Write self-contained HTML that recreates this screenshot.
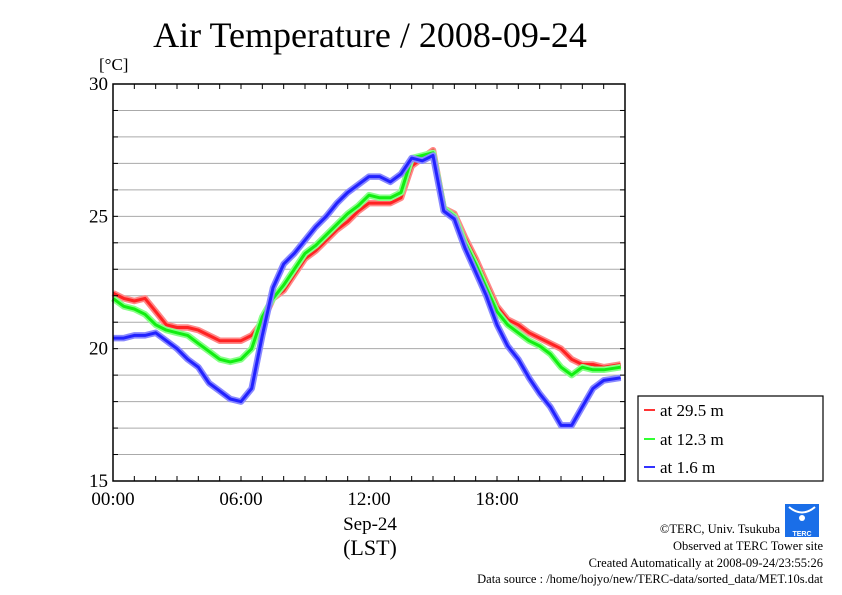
<!DOCTYPE html>
<html><head><meta charset="utf-8"><style>
body{margin:0;background:#fff;}
svg{display:block;font-family:"Liberation Serif",serif;}
</style></head><body>
<svg id="chart" width="842" height="595">
<text x="370" y="47" font-size="36" text-anchor="middle">Air Temperature / 2008-09-24</text>
<text x="99" y="70" font-size="17">[°C]</text>
<g id="grid"></g>
<g id="series"></g>
<rect x="113" y="84" width="512" height="397" fill="none" stroke="#000" stroke-width="1.5"/>
<g id="axes"></g>
<text x="370" y="530" font-size="19" text-anchor="middle">Sep-24</text>
<text x="370" y="555" font-size="22" text-anchor="middle">(LST)</text>
<g>
<rect x="638" y="396" width="185" height="85" fill="#fff" stroke="#000" stroke-width="1.2"/>
<line x1="644" y1="410" x2="655" y2="410" stroke="#f33" stroke-width="2"/>
<text x="660" y="416" font-size="17">at 29.5 m</text>
<line x1="644" y1="439" x2="655" y2="439" stroke="#3f3" stroke-width="2"/>
<text x="660" y="445" font-size="17">at 12.3 m</text>
<line x1="644" y1="467" x2="655" y2="467" stroke="#33f" stroke-width="2"/>
<text x="660" y="473" font-size="17">at 1.6 m</text>
</g>
<g>
<rect x="785" y="504" width="34" height="33" fill="#1a6ee8"/>
<path d="M789 507 Q802 518 815 507" stroke="#fff" stroke-width="2" fill="none"/>
<circle cx="802" cy="518" r="3" fill="#fff"/>
<text x="802" y="536" font-size="7" fill="#fff" text-anchor="middle" font-family="Liberation Sans,sans-serif" font-weight="bold">TERC</text>
</g>
<g font-size="12.5" text-anchor="end">
<text x="780" y="533">©TERC, Univ. Tsukuba</text>
<text x="823" y="550">Observed at TERC Tower site</text>
<text x="823" y="567">Created Automatically at 2008-09-24/23:55:26</text>
<text x="823" y="583">Data source : /home/hojyo/new/TERC-data/sorted_data/MET.10s.dat</text>
</g>
</svg>
<script>
const hours=[0,0.5,1,1.5,2,2.5,3,3.5,4,4.5,5,5.5,6,6.5,7,7.5,8,8.5,9,9.5,10,10.5,11,11.5,12,12.5,13,13.5,14,14.5,15,15.5,16,16.5,17,17.5,18,18.5,19,19.5,20,20.5,21,21.5,22,22.5,23,23.8];
const temp29=[22.1,21.9,21.8,21.9,21.4,20.9,20.8,20.8,20.7,20.5,20.3,20.3,20.3,20.5,21.0,21.9,22.2,22.8,23.4,23.7,24.1,24.5,24.8,25.2,25.5,25.5,25.5,25.7,26.9,27.2,27.5,25.3,25.1,24.2,23.4,22.5,21.6,21.1,20.9,20.6,20.4,20.2,20.0,19.6,19.4,19.4,19.3,19.4];
const temp12=[21.9,21.6,21.5,21.3,20.9,20.7,20.6,20.5,20.2,19.9,19.6,19.5,19.6,20.0,21.2,21.9,22.4,23.0,23.6,23.9,24.3,24.7,25.1,25.4,25.8,25.7,25.7,25.9,27.2,27.3,27.4,25.3,25.0,24.0,23.2,22.3,21.4,20.9,20.6,20.3,20.1,19.8,19.3,19.0,19.3,19.2,19.2,19.3];
const temp1=[20.4,20.4,20.5,20.5,20.6,20.3,20.0,19.6,19.3,18.7,18.4,18.1,18.0,18.5,20.5,22.3,23.2,23.6,24.1,24.6,25.0,25.5,25.9,26.2,26.5,26.5,26.3,26.6,27.2,27.1,27.3,25.2,24.9,23.8,22.9,22.0,20.9,20.1,19.6,18.9,18.3,17.8,17.1,17.1,17.8,18.5,18.8,18.9];
const yTicks=[15,20,25,30];
const xTickLabels=["00:00","06:00","12:00","18:00"];
const X0=113,X1=625,Y0=481,Y1=84;
const xs=h=>X0+(h/24)*(X1-X0);
const ys=v=>Y0-(v-15)/15*(Y0-Y1);
const NS="http://www.w3.org/2000/svg";
function mk(tag,parent,attrs){const e=document.createElementNS(NS,tag);for(const k in attrs)e.setAttribute(k,attrs[k]);parent.appendChild(e);return e;}
const grid=document.getElementById('grid'),axes=document.getElementById('axes'),ser=document.getElementById('series');
for(let v=16;v<30;v++){const l=mk('line',grid,{x1:X0,x2:X1,y1:ys(v),y2:ys(v),stroke:'#aaa','stroke-width':1});

}
for(let v=15;v<=30;v++){[[X0,X0+5],[X1-5,X1]].forEach(p=>{const t=mk('line',axes,{x1:p[0],x2:p[1],y1:ys(v),y2:ys(v),stroke:'#000'});

});}
for(let h=0;h<=24;h++){[[Y0,Y0-5],[Y1,Y1+5]].forEach(p=>{const t=mk('line',axes,{x1:xs(h),x2:xs(h),y1:p[0],y2:p[1],stroke:'#000'});

});}
yTicks.forEach(v=>{const t=mk('text',axes,{x:X0-5,y:ys(v)+6,'font-size':19,'text-anchor':'end'});t.textContent=v;

});
xTickLabels.forEach((s,i)=>{const t=mk('text',axes,{x:xs(i*6),y:505,'font-size':19,'text-anchor':'middle'});t.textContent=s;

});
[[temp29,'#f22','#f88','series-29m'],[temp12,'#1e1','#8f8','series-12m'],[temp1,'#22f','#88f','series-1m']].forEach(([d,c,h,n])=>{
const pts=hours.map((t,i)=>xs(t).toFixed(1)+','+ys(d[i]).toFixed(1)).join(' ');
const halo=mk('polyline',ser,{points:pts,fill:'none',stroke:h,'stroke-width':6.5,'stroke-linejoin':'round'});


const l=mk('polyline',ser,{points:pts,fill:'none',stroke:c,'stroke-width':3,'stroke-linejoin':'round'});

});
</script>
</body></html>
